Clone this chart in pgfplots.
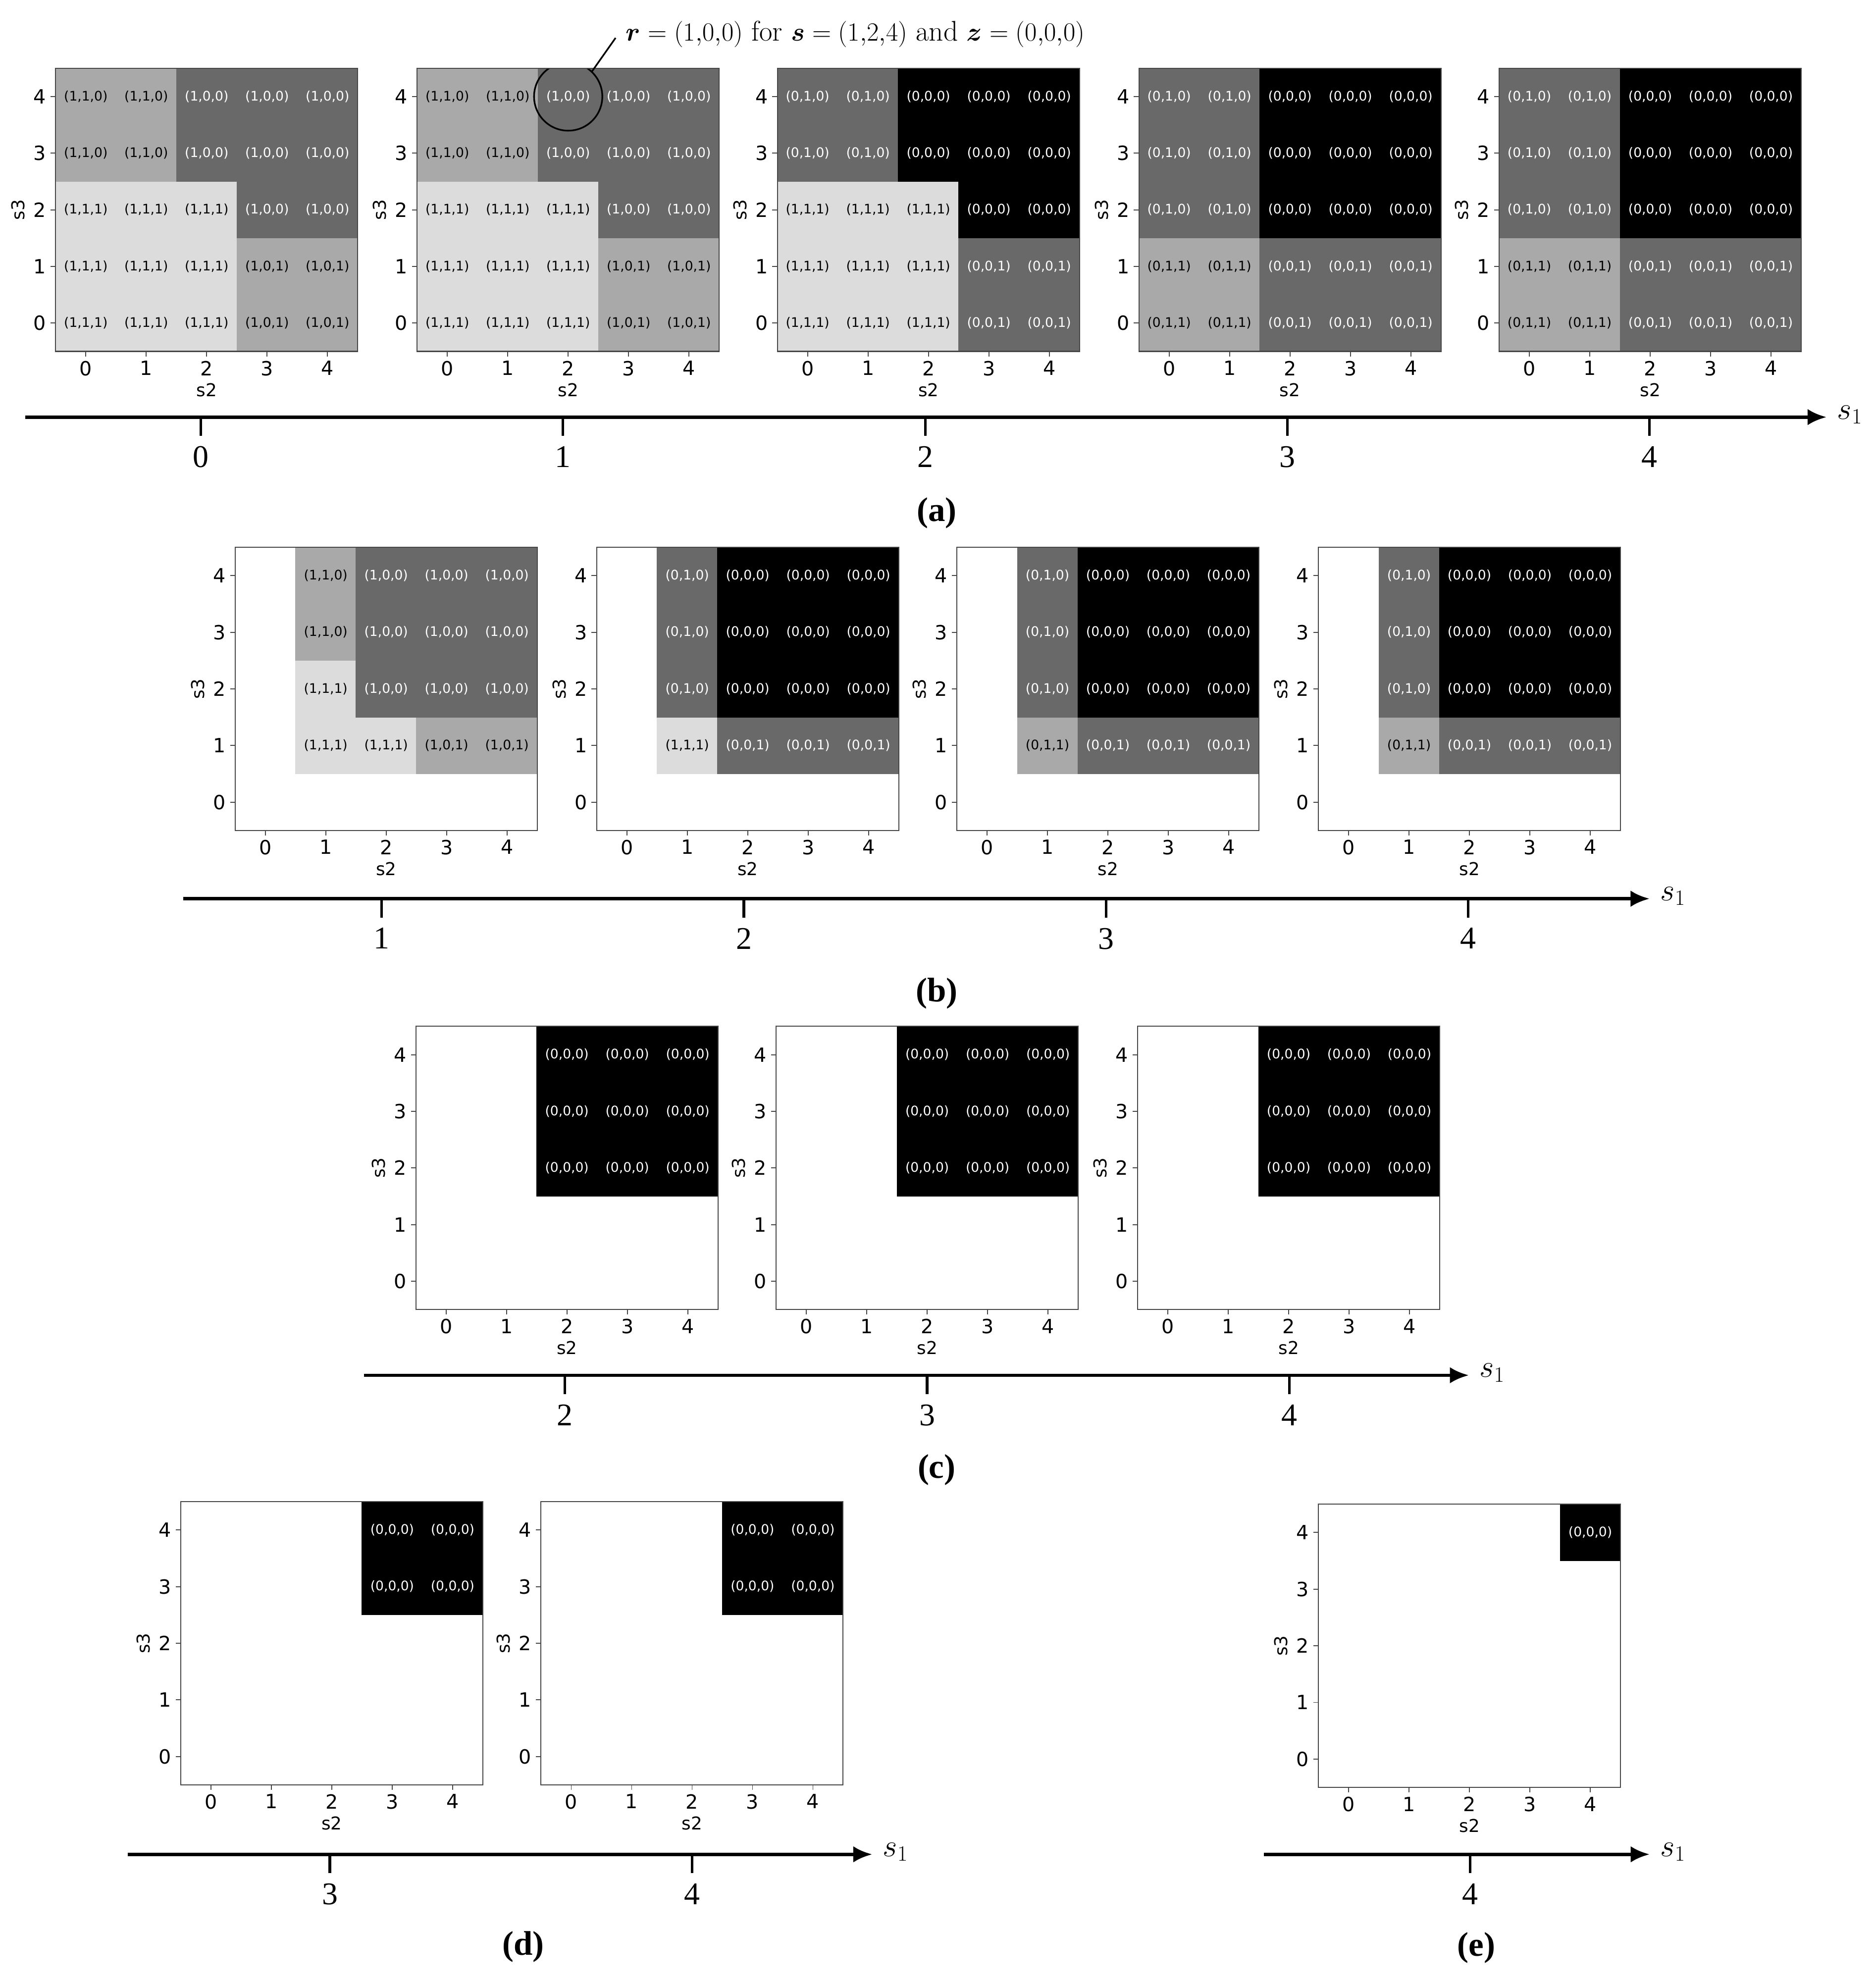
\documentclass[border=0pt]{standalone}
\usepackage{pgfplots}
\pgfplotsset{compat=1.18}
\usepackage{pgfplotstable}
\usepackage{amsmath}
\usepackage{fontspec}
\newfontfamily\dvs{DejaVu Sans}
\newfontfamily\lser{Liberation Serif}
\usetikzlibrary{arrows.meta}

\definecolor{cDim}{RGB}{105,105,105}
\definecolor{cDark}{RGB}{169,169,169}
\definecolor{cLight}{RGB}{220,220,220}
\definecolor{cFrame}{RGB}{70,70,70}

% c = number of ones in r (4 = cell not defined, drawn white)
\pgfplotstableread{
s2 s3 c lab
0 0 3 (1,1,1)
1 0 3 (1,1,1)
2 0 3 (1,1,1)
3 0 2 (1,0,1)
4 0 2 (1,0,1)
0 1 3 (1,1,1)
1 1 3 (1,1,1)
2 1 3 (1,1,1)
3 1 2 (1,0,1)
4 1 2 (1,0,1)
0 2 3 (1,1,1)
1 2 3 (1,1,1)
2 2 3 (1,1,1)
3 2 1 (1,0,0)
4 2 1 (1,0,0)
0 3 2 (1,1,0)
1 3 2 (1,1,0)
2 3 1 (1,0,0)
3 3 1 (1,0,0)
4 3 1 (1,0,0)
0 4 2 (1,1,0)
1 4 2 (1,1,0)
2 4 1 (1,0,0)
3 4 1 (1,0,0)
4 4 1 (1,0,0)
}\tAzero

\pgfplotstableread{
s2 s3 c lab
0 0 3 (1,1,1)
1 0 3 (1,1,1)
2 0 3 (1,1,1)
3 0 1 (0,0,1)
4 0 1 (0,0,1)
0 1 3 (1,1,1)
1 1 3 (1,1,1)
2 1 3 (1,1,1)
3 1 1 (0,0,1)
4 1 1 (0,0,1)
0 2 3 (1,1,1)
1 2 3 (1,1,1)
2 2 3 (1,1,1)
3 2 0 (0,0,0)
4 2 0 (0,0,0)
0 3 1 (0,1,0)
1 3 1 (0,1,0)
2 3 0 (0,0,0)
3 3 0 (0,0,0)
4 3 0 (0,0,0)
0 4 1 (0,1,0)
1 4 1 (0,1,0)
2 4 0 (0,0,0)
3 4 0 (0,0,0)
4 4 0 (0,0,0)
}\tAtwo

\pgfplotstableread{
s2 s3 c lab
0 0 2 (0,1,1)
1 0 2 (0,1,1)
2 0 1 (0,0,1)
3 0 1 (0,0,1)
4 0 1 (0,0,1)
0 1 2 (0,1,1)
1 1 2 (0,1,1)
2 1 1 (0,0,1)
3 1 1 (0,0,1)
4 1 1 (0,0,1)
0 2 1 (0,1,0)
1 2 1 (0,1,0)
2 2 0 (0,0,0)
3 2 0 (0,0,0)
4 2 0 (0,0,0)
0 3 1 (0,1,0)
1 3 1 (0,1,0)
2 3 0 (0,0,0)
3 3 0 (0,0,0)
4 3 0 (0,0,0)
0 4 1 (0,1,0)
1 4 1 (0,1,0)
2 4 0 (0,0,0)
3 4 0 (0,0,0)
4 4 0 (0,0,0)
}\tAthree

\pgfplotstableread{
s2 s3 c lab
0 0 4 -
1 0 4 -
2 0 4 -
3 0 4 -
4 0 4 -
0 1 4 -
1 1 3 (1,1,1)
2 1 3 (1,1,1)
3 1 2 (1,0,1)
4 1 2 (1,0,1)
0 2 4 -
1 2 3 (1,1,1)
2 2 1 (1,0,0)
3 2 1 (1,0,0)
4 2 1 (1,0,0)
0 3 4 -
1 3 2 (1,1,0)
2 3 1 (1,0,0)
3 3 1 (1,0,0)
4 3 1 (1,0,0)
0 4 4 -
1 4 2 (1,1,0)
2 4 1 (1,0,0)
3 4 1 (1,0,0)
4 4 1 (1,0,0)
}\tBone

\pgfplotstableread{
s2 s3 c lab
0 0 4 -
1 0 4 -
2 0 4 -
3 0 4 -
4 0 4 -
0 1 4 -
1 1 3 (1,1,1)
2 1 1 (0,0,1)
3 1 1 (0,0,1)
4 1 1 (0,0,1)
0 2 4 -
1 2 1 (0,1,0)
2 2 0 (0,0,0)
3 2 0 (0,0,0)
4 2 0 (0,0,0)
0 3 4 -
1 3 1 (0,1,0)
2 3 0 (0,0,0)
3 3 0 (0,0,0)
4 3 0 (0,0,0)
0 4 4 -
1 4 1 (0,1,0)
2 4 0 (0,0,0)
3 4 0 (0,0,0)
4 4 0 (0,0,0)
}\tBtwo

\pgfplotstableread{
s2 s3 c lab
0 0 4 -
1 0 4 -
2 0 4 -
3 0 4 -
4 0 4 -
0 1 4 -
1 1 2 (0,1,1)
2 1 1 (0,0,1)
3 1 1 (0,0,1)
4 1 1 (0,0,1)
0 2 4 -
1 2 1 (0,1,0)
2 2 0 (0,0,0)
3 2 0 (0,0,0)
4 2 0 (0,0,0)
0 3 4 -
1 3 1 (0,1,0)
2 3 0 (0,0,0)
3 3 0 (0,0,0)
4 3 0 (0,0,0)
0 4 4 -
1 4 1 (0,1,0)
2 4 0 (0,0,0)
3 4 0 (0,0,0)
4 4 0 (0,0,0)
}\tBthree

\pgfplotstableread{
s2 s3 c lab
0 0 4 -
1 0 4 -
2 0 4 -
3 0 4 -
4 0 4 -
0 1 4 -
1 1 4 -
2 1 4 -
3 1 4 -
4 1 4 -
0 2 4 -
1 2 4 -
2 2 0 (0,0,0)
3 2 0 (0,0,0)
4 2 0 (0,0,0)
0 3 4 -
1 3 4 -
2 3 0 (0,0,0)
3 3 0 (0,0,0)
4 3 0 (0,0,0)
0 4 4 -
1 4 4 -
2 4 0 (0,0,0)
3 4 0 (0,0,0)
4 4 0 (0,0,0)
}\tC

\pgfplotstableread{
s2 s3 c lab
0 0 4 -
1 0 4 -
2 0 4 -
3 0 4 -
4 0 4 -
0 1 4 -
1 1 4 -
2 1 4 -
3 1 4 -
4 1 4 -
0 2 4 -
1 2 4 -
2 2 4 -
3 2 4 -
4 2 4 -
0 3 4 -
1 3 4 -
2 3 4 -
3 3 0 (0,0,0)
4 3 0 (0,0,0)
0 4 4 -
1 4 4 -
2 4 4 -
3 4 0 (0,0,0)
4 4 0 (0,0,0)
}\tD

\pgfplotstableread{
s2 s3 c lab
0 0 4 -
1 0 4 -
2 0 4 -
3 0 4 -
4 0 4 -
0 1 4 -
1 1 4 -
2 1 4 -
3 1 4 -
4 1 4 -
0 2 4 -
1 2 4 -
2 2 4 -
3 2 4 -
4 2 4 -
0 3 4 -
1 3 4 -
2 3 4 -
3 3 4 -
4 3 4 -
0 4 4 -
1 4 4 -
2 4 4 -
3 4 4 -
4 4 0 (0,0,0)
}\tE

\pgfplotsset{
  colormap={stgray}{color(0cm)=(black); color(1cm)=(cDim); color(2cm)=(cDark); color(3cm)=(cLight); color(4cm)=(white)},
  heat/.style={
    scale only axis, width=239pt, height=224pt, anchor=north west,
    xmin=-0.5, xmax=4.5, ymin=-0.5, ymax=4.5,
    xtick={0,...,4}, ytick={0,...,4},
    tick pos=left, tick align=outside, major tick length=4pt,
    tick style={line width=0.7pt, cFrame},
    axis line style={line width=0.8pt, cFrame},
    axis on top,
    xlabel={s2}, ylabel={s3},
    label style={font=\dvs\fontsize{14}{16}\selectfont},
    xlabel style={at={(axis description cs:0.5,-0.136)}, anchor=center},
    ylabel style={at={(axis description cs:-0.124,0.5)}, anchor=center},
    tick label style={font=\dvs\fontsize{15.5}{17}\selectfont},
    /pgf/number format/assume math mode=true,
    colormap name=stgray, colormap access=direct,
  },
  cellfill/.style={matrix plot*, mesh/cols=5, point meta=\thisrow{c}},
  celltext/.style={only marks, mark=none, point meta=explicit symbolic,
    nodes near coords, nodes near coords align={center},
    every node near coord/.append style={font=\dvs\fontsize{10.4}{12}\selectfont, inner sep=0pt, anchor=center, text=#1}},
  s1axis/.style={
    scale only axis, height=1pt, ymin=0, ymax=1, hide y axis,
    axis x line*=bottom, anchor=south west,
    x axis line style={line width=2.6pt, -{Latex[length=15pt,width=13pt]}},
    tick align=outside, major tick length=15pt,
    xtick={0,...,4}, xtick style={line width=2pt, black},
    xticklabel style={font=\lser\fontsize{25}{27}\selectfont, anchor=north, inner sep=0pt, yshift=-8pt},
    /pgf/number format/assume math mode=true,
    xlabel={$s_1$},
    xlabel style={at={(axis description cs:1,0)}, anchor=west, font=\fontsize{27}{29}\selectfont, xshift=5pt, yshift=2pt},
  },
}

\newcommand{\panel}[2]{%
\begin{axis}[heat, at={#1}]
\addplot[cellfill] table[x=s2,y=s3] #2;
\addplot[celltext=white, restrict expr to domain={\thisrow{c}}{0:1}] table[x=s2,y=s3,meta=lab] #2;
\addplot[celltext=black, restrict expr to domain={\thisrow{c}}{2:3}] table[x=s2,y=s3,meta=lab] #2;
\end{axis}}

\begin{document}
\begin{tikzpicture}[x=1pt,y=1pt]
\path[use as bounding box] (0,0) rectangle (1484,1568);

% (a)
\panel{(44pt,1514pt)}{\tAzero}
\begin{axis}[heat, at={(330pt,1514pt)}]
\addplot[cellfill] table[x=s2,y=s3] \tAzero;
\addplot[celltext=white, restrict expr to domain={\thisrow{c}}{0:1}] table[x=s2,y=s3,meta=lab] \tAzero;
\addplot[celltext=black, restrict expr to domain={\thisrow{c}}{2:3}] table[x=s2,y=s3,meta=lab] \tAzero;
\draw[line width=1.3pt] (axis cs:2,4) circle[radius=27pt];
\end{axis}
\panel{(615pt,1514pt)}{\tAtwo}
\panel{(901pt,1514pt)}{\tAthree}
\panel{(1186pt,1514pt)}{\tAthree}
\begin{axis}[s1axis, at={(20pt,1238pt)}, xmin=-0.485, xmax=4.489, width=1425pt]
\end{axis}
\draw[line width=1.3pt] (468,1511) -- (487,1538);
\node[anchor=west, font=\fontsize{22.5}{25}\selectfont, inner sep=0pt] at (495,1541)
  {$\boldsymbol{r}=(1{,}0{,}0)$ for $\boldsymbol{s}=(1{,}2{,}4)$ and $\boldsymbol{z}=(0{,}0{,}0)$};
\node[font=\lser\bfseries\fontsize{27}{30}\selectfont] at (741,1162) {(a)};

% (b)
\panel{(186pt,1135pt)}{\tBone}
\panel{(472pt,1135pt)}{\tBtwo}
\panel{(757pt,1135pt)}{\tBthree}
\panel{(1043pt,1135pt)}{\tBthree}
\begin{axis}[s1axis, at={(145pt,857pt)}, xmin=0.452, xmax=4.501, width=1160pt]
\end{axis}
\node[font=\lser\bfseries\fontsize{27}{30}\selectfont] at (741,782) {(b)};

% (c)
\panel{(329pt,756pt)}{\tC}
\panel{(614pt,756pt)}{\tC}
\panel{(900pt,756pt)}{\tC}
\begin{axis}[s1axis, at={(288pt,480pt)}, xmin=1.445, xmax=4.496, width=874pt]
\end{axis}
\node[font=\lser\bfseries\fontsize{27}{30}\selectfont] at (741,405) {(c)};

% (d)
\panel{(143pt,380pt)}{\tD}
\panel{(428pt,380pt)}{\tD}
\begin{axis}[s1axis, at={(101pt,101pt)}, xmin=2.442, xmax=4.497, width=589pt]
\end{axis}
\node[font=\lser\bfseries\fontsize{27}{30}\selectfont] at (414,28) {(d)};

% (e)
\panel{(1043pt,378pt)}{\tE}
\begin{axis}[s1axis, at={(1000pt,101pt)}, xmin=3.431, xmax=4.496, width=305pt]
\end{axis}
\node[font=\lser\bfseries\fontsize{27}{30}\selectfont] at (1168,27) {(e)};
\end{tikzpicture}
\end{document}
